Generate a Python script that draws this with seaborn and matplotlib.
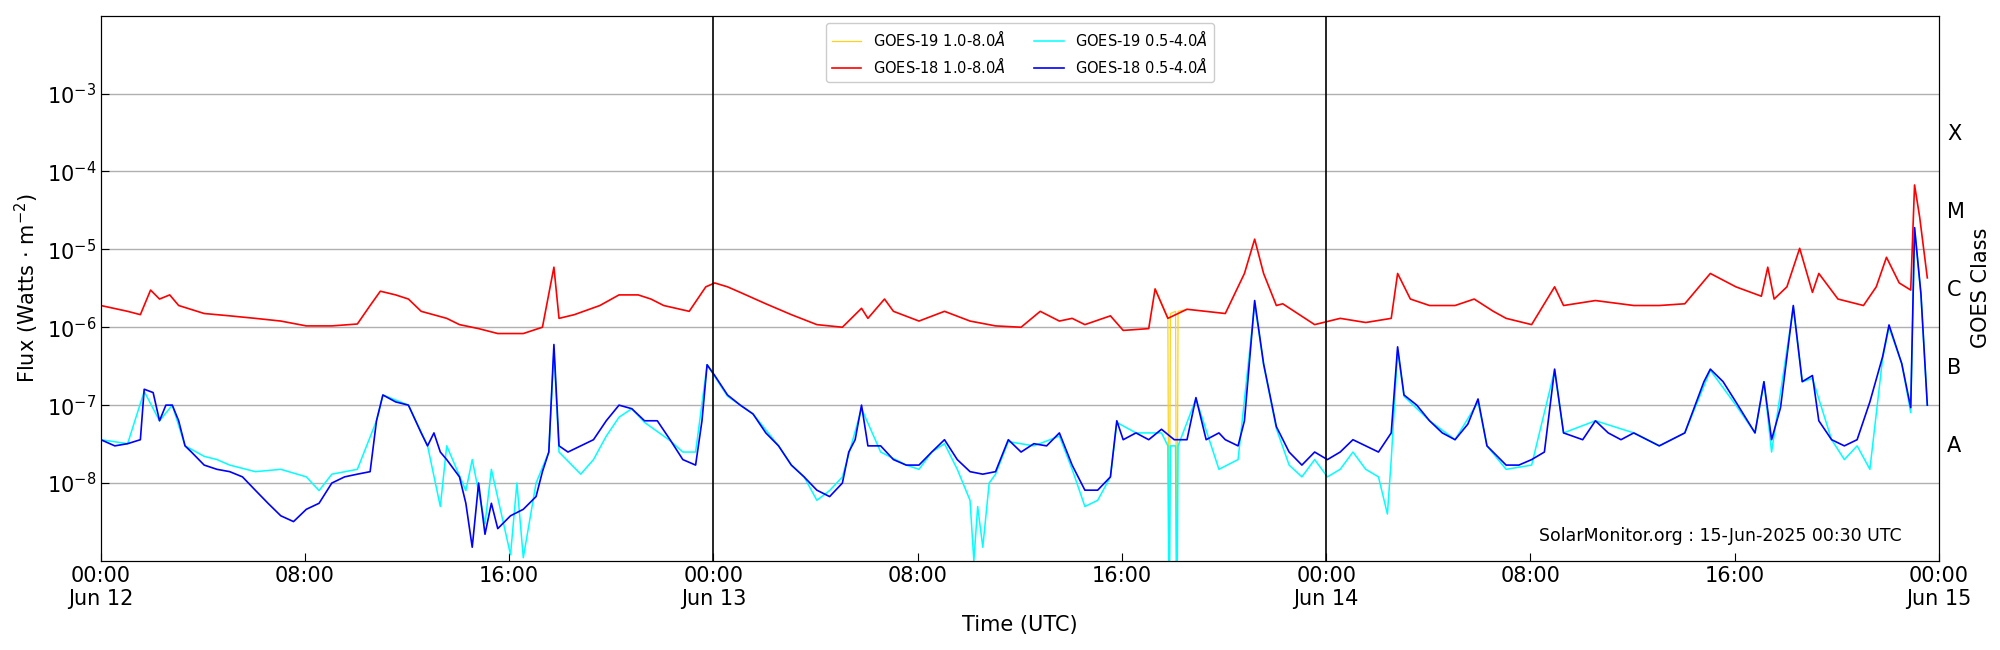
import matplotlib
matplotlib.use("Agg")
import matplotlib.pyplot as plt
import seaborn as sns
import pandas as pd

# (hours since 2025-06-12 00:00 UTC, flux W/m^2)
goes18_long = [
    (0, 1.9e-6), (1.05, 1.6e-6), (1.55, 1.45e-6), (1.95, 3.0e-6), (2.3, 2.3e-6), (2.7, 2.6e-6),
    (3.05, 1.9e-6), (4.05, 1.5e-6), (5.05, 1.4e-6), (6.05, 1.3e-6), (7.05, 1.2e-6), (8.05, 1.04e-6),
    (9.05, 1.04e-6), (10.05, 1.1e-6), (10.55, 1.9e-6), (10.95, 2.9e-6), (11.55, 2.6e-6), (12.05, 2.3e-6),
    (12.55, 1.6e-6), (13.55, 1.3e-6), (14.05, 1.08e-6), (14.8, 0.96e-6), (15.55, 0.83e-6), (16.55, 0.83e-6),
    (17.3, 1.0e-6), (17.75, 5.9e-6), (17.95, 1.3e-6), (18.55, 1.45e-6), (19.55, 1.9e-6), (20.3, 2.6e-6),
    (21.05, 2.6e-6), (21.55, 2.3e-6), (22.05, 1.9e-6), (23.05, 1.6e-6), (23.7, 3.3e-6), (24.05, 3.7e-6),
    (24.55, 3.3e-6), (25.05, 2.8e-6), (26.05, 2.0e-6), (27.05, 1.45e-6), (28.05, 1.08e-6), (29.05, 1.0e-6),
    (29.8, 1.75e-6), (30.05, 1.3e-6), (30.7, 2.3e-6), (31.05, 1.6e-6), (32.05, 1.2e-6), (33.05, 1.6e-6),
    (34.05, 1.2e-6), (35.05, 1.04e-6), (36.05, 1.0e-6), (36.8, 1.6e-6), (37.55, 1.2e-6), (38.05, 1.3e-6),
    (38.55, 1.08e-6), (39.55, 1.4e-6), (40.05, 0.91e-6), (41.05, 0.96e-6), (41.3, 3.1e-6), (41.8, 1.3e-6),
    (42.55, 1.7e-6), (44.05, 1.5e-6), (44.8, 4.9e-6), (45.2, 1.35e-5), (45.55, 4.9e-6), (46.05, 1.9e-6),
    (46.3, 2.0e-6), (47.55, 1.08e-6), (48.55, 1.3e-6), (49.55, 1.15e-6), (50.55, 1.3e-6), (50.8, 4.9e-6),
    (51.3, 2.3e-6), (52.05, 1.9e-6), (53.05, 1.9e-6), (53.8, 2.3e-6), (54.55, 1.6e-6), (55.05, 1.3e-6),
    (56.05, 1.08e-6), (56.95, 3.3e-6), (57.3, 1.9e-6), (58.55, 2.2e-6), (60.05, 1.9e-6), (61.05, 1.9e-6),
    (62.05, 2.0e-6), (63.05, 4.9e-6), (64.05, 3.3e-6), (65.05, 2.5e-6), (65.3, 5.9e-6), (65.55, 2.3e-6),
    (66.05, 3.3e-6), (66.55, 1.03e-5), (67.05, 2.8e-6), (67.3, 4.9e-6), (68.05, 2.3e-6), (69.05, 1.9e-6),
    (69.55, 3.3e-6), (69.95, 7.9e-6), (70.45, 3.7e-6), (70.9, 3.0e-6), (71.05, 6.7e-5), (71.25, 2.6e-5),
    (71.55, 4.3e-6),
]

goes19_long = [
    (41.3, 3.1e-6), (41.8, 1.3e-6), (41.85, 1e-10), (41.9, 1.5e-6), (42.1, 1.6e-6), (42.15, 1e-10),
    (42.2, 1.6e-6), (42.55, 1.7e-6),
]

goes18_short = [
    (0, 3.6e-8), (0.55, 3.0e-8), (1.05, 3.2e-8), (1.55, 3.6e-8), (1.7, 1.6e-7), (2.05, 1.45e-7),
    (2.3, 6.3e-8), (2.55, 1e-7), (2.8, 1e-7), (3.05, 6.3e-8), (3.3, 3.0e-8), (3.55, 2.5e-8),
    (4.05, 1.7e-8), (4.55, 1.5e-8), (5.05, 1.4e-8), (5.55, 1.2e-8), (6.05, 8.1e-9), (6.55, 5.5e-9),
    (7.05, 3.8e-9), (7.55, 3.2e-9), (8.05, 4.6e-9), (8.55, 5.5e-9), (9.05, 1e-8), (9.55, 1.2e-8),
    (10.05, 1.3e-8), (10.55, 1.4e-8), (10.8, 6.3e-8), (11.05, 1.35e-7), (11.55, 1.1e-7), (12.05, 1e-7),
    (12.55, 4.4e-8), (12.8, 3e-8), (13.05, 4.4e-8), (13.3, 2.5e-8), (13.55, 2e-8), (14.05, 1.2e-8),
    (14.3, 5.5e-9), (14.55, 1.5e-9), (14.8, 1e-8), (15.05, 2.2e-9), (15.3, 5.5e-9), (15.55, 2.6e-9),
    (16.05, 3.8e-9), (16.55, 4.6e-9), (17.05, 6.7e-9), (17.3, 1.4e-8), (17.55, 2.5e-8), (17.75, 6e-7),
    (17.95, 3e-8), (18.3, 2.5e-8), (18.8, 3e-8), (19.3, 3.6e-8), (19.8, 6.3e-8), (20.3, 1e-7),
    (20.8, 9e-8), (21.3, 6.3e-8), (21.8, 6.3e-8), (22.3, 3.6e-8), (22.8, 2e-8), (23.3, 1.7e-8),
    (23.55, 6.3e-8), (23.75, 3.3e-7), (24.05, 2.4e-7), (24.55, 1.35e-7), (25.05, 1e-7), (25.55, 7.7e-8),
    (26.05, 4.4e-8), (26.55, 3e-8), (27.05, 1.7e-8), (27.55, 1.2e-8), (28.05, 8.1e-9), (28.55, 6.7e-9),
    (29.05, 1e-8), (29.3, 2.5e-8), (29.55, 3.6e-8), (29.8, 1e-7), (30.05, 3e-8), (30.55, 3e-8),
    (31.05, 2e-8), (31.55, 1.7e-8), (32.05, 1.7e-8), (32.55, 2.5e-8), (33.05, 3.6e-8), (33.55, 2e-8),
    (34.05, 1.4e-8), (34.55, 1.3e-8), (35.05, 1.4e-8), (35.55, 3.6e-8), (36.05, 2.5e-8), (36.55, 3.2e-8),
    (37.05, 3e-8), (37.55, 4.4e-8), (38.05, 1.7e-8), (38.55, 8.1e-9), (39.05, 8.1e-9), (39.55, 1.2e-8),
    (39.8, 6.3e-8), (40.05, 3.6e-8), (40.55, 4.4e-8), (41.05, 3.6e-8), (41.55, 4.9e-8), (42.05, 3.6e-8),
    (42.55, 3.6e-8), (42.9, 1.25e-7), (43.3, 3.6e-8), (43.8, 4.4e-8), (44.05, 3.6e-8), (44.55, 3e-8),
    (44.8, 6.3e-8), (45.2, 2.2e-6), (45.55, 3.4e-7), (46.05, 5.3e-8), (46.55, 2.5e-8), (47.05, 1.7e-8),
    (47.55, 2.5e-8), (48.05, 2e-8), (48.55, 2.5e-8), (49.05, 3.6e-8), (49.55, 3e-8), (50.05, 2.5e-8),
    (50.55, 4.4e-8), (50.8, 5.6e-7), (51.05, 1.35e-7), (51.55, 1e-7), (52.05, 6.3e-8), (52.55, 4.4e-8),
    (53.05, 3.6e-8), (53.55, 5.7e-8), (53.95, 1.2e-7), (54.3, 3e-8), (55.05, 1.7e-8), (55.55, 1.7e-8),
    (56.05, 2e-8), (56.55, 2.5e-8), (56.95, 2.9e-7), (57.3, 4.4e-8), (58.05, 3.6e-8), (58.55, 6.3e-8),
    (59.05, 4.4e-8), (59.55, 3.6e-8), (60.05, 4.4e-8), (61.05, 3e-8), (62.05, 4.4e-8), (62.8, 2e-7),
    (63.05, 2.9e-7), (63.55, 2e-7), (64.05, 1.1e-7), (64.8, 4.4e-8), (65.15, 2e-7), (65.45, 3.6e-8),
    (65.8, 9.3e-8), (66.3, 1.9e-6), (66.65, 2e-7), (67.05, 2.4e-7), (67.3, 6.3e-8), (67.8, 3.6e-8),
    (68.3, 3e-8), (68.8, 3.6e-8), (69.3, 1.1e-7), (69.8, 4.2e-7), (70.05, 1.07e-6), (70.55, 3.4e-7),
    (70.9, 9.3e-8), (71.05, 1.9e-5), (71.3, 2.7e-6), (71.55, 1e-7),
]

goes19_short = [
    (0, 3.6e-8), (1.05, 3.2e-8), (1.7, 1.5e-7), (2.3, 6.3e-8), (2.8, 1e-7), (3.3, 3e-8), (4.05, 2.2e-8),
    (4.55, 2e-8), (5.05, 1.7e-8), (6.05, 1.4e-8), (7.05, 1.5e-8), (8.05, 1.2e-8), (8.55, 8e-9),
    (9.05, 1.3e-8), (10.05, 1.5e-8), (10.8, 6.3e-8), (11.05, 1.35e-7), (12.05, 1e-7), (12.8, 3e-8),
    (13.3, 5e-9), (13.55, 3e-8), (14.3, 8e-9), (14.55, 2e-8), (15.05, 3e-9), (15.3, 1.5e-8),
    (16.05, 1.2e-9), (16.3, 1e-8), (16.55, 1.1e-9), (17.05, 1e-8), (17.55, 2.5e-8), (17.75, 5e-7),
    (17.95, 2.5e-8), (18.8, 1.3e-8), (19.3, 2e-8), (19.8, 4e-8), (20.3, 7e-8), (20.8, 9e-8), (21.3, 6e-8),
    (22.3, 3.5e-8), (22.8, 2.5e-8), (23.3, 2.5e-8), (23.75, 3.3e-7), (24.55, 1.3e-7), (25.55, 7.7e-8),
    (26.55, 3e-8), (27.05, 1.7e-8), (27.55, 1.2e-8), (28.05, 6e-9), (28.55, 8e-9), (29.05, 1.2e-8),
    (29.8, 9e-8), (30.55, 2.5e-8), (31.55, 1.7e-8), (32.05, 1.5e-8), (32.55, 2.5e-8), (33.05, 3.2e-8),
    (33.55, 1.5e-8), (34.05, 6e-9), (34.2, 1e-9), (34.35, 5e-9), (34.55, 1.5e-9), (34.8, 1e-8),
    (35.05, 1.3e-8), (35.55, 3.4e-8), (36.55, 3e-8), (37.55, 4e-8), (38.05, 1.5e-8), (38.55, 5e-9),
    (39.05, 6e-9), (39.55, 1.2e-8), (39.8, 6e-8), (40.55, 4.4e-8), (41.55, 4.4e-8), (41.8, 3e-8),
    (41.85, 1e-10), (41.9, 3e-8), (42.1, 3e-8), (42.15, 1e-10), (42.2, 3e-8), (42.9, 1.2e-7),
    (43.8, 1.5e-8), (44.55, 2e-8), (45.2, 2e-6), (45.55, 3.3e-7), (46.05, 5e-8), (46.55, 1.7e-8),
    (47.05, 1.2e-8), (47.55, 2e-8), (48.05, 1.2e-8), (48.55, 1.5e-8), (49.05, 2.5e-8), (49.55, 1.5e-8),
    (50.05, 1.2e-8), (50.4, 4e-9), (50.55, 2e-8), (50.8, 5e-7), (51.05, 1.3e-7), (52.05, 6.3e-8),
    (53.05, 3.6e-8), (53.95, 1.1e-7), (54.3, 3e-8), (55.05, 1.5e-8), (56.05, 1.7e-8), (56.95, 2.8e-7),
    (57.3, 4.4e-8), (58.55, 6.3e-8), (60.05, 4.4e-8), (61.05, 3e-8), (62.05, 4.4e-8), (63.05, 2.8e-7),
    (64.05, 1e-7), (64.8, 4.4e-8), (65.15, 2e-7), (65.45, 2.5e-8), (66.3, 1.8e-6), (66.65, 2e-7),
    (67.05, 2.2e-7), (67.8, 3.6e-8), (68.3, 2e-8), (68.8, 3e-8), (69.3, 1.5e-8), (69.8, 4e-7),
    (70.05, 1e-6), (70.55, 3.4e-7), (70.9, 8e-8), (71.05, 1.9e-5), (71.3, 2.6e-6), (71.55, 1e-7),
]

x_tick_hours = [0, 8, 16, 24, 32, 40, 48, 56, 64, 72]
x_tick_labels = ["00:00\nJun 12", "08:00", "16:00", "00:00\nJun 13", "08:00", "16:00",
                 "00:00\nJun 14", "08:00", "16:00", "00:00\nJun 15"]
y_ticks = [1e-8, 1e-7, 1e-6, 1e-5, 1e-4, 1e-3]
y_tick_labels = [r"$10^{-8}$", r"$10^{-7}$", r"$10^{-6}$", r"$10^{-5}$", r"$10^{-4}$", r"$10^{-3}$"]
class_levels = [10**-7.5, 10**-6.5, 10**-5.5, 10**-4.5, 10**-3.5]
class_labels = ["A", "B", "C", "M", "X"]
day_lines = [24, 48]

series = [
    ("GOES-19 1.0-8.0$\\AA$", goes19_long, "#FFD21F", 0.9),
    ("GOES-18 1.0-8.0$\\AA$", goes18_long, "red", 1.2),
    ("GOES-19 0.5-4.0$\\AA$", goes19_short, "cyan", 1.1),
    ("GOES-18 0.5-4.0$\\AA$", goes18_short, "blue", 1.2),
]

fig = plt.figure(figsize=(20, 6.5), dpi=100)
ax = fig.add_axes([0.0504, 0.137, 0.919, 0.839])
for label, data, color, lw in series:
    df = pd.DataFrame(data, columns=["hour", "flux"])
    sns.lineplot(data=df, x="hour", y="flux", ax=ax, color=color, lw=lw,
                 estimator=None, sort=False, label=label)

ax.set_yscale("log")
ax.set_xlim(0, 72)
ax.set_ylim(1e-9, 1e-2)
ax.set_xticks(x_tick_hours)
ax.set_xticklabels(x_tick_labels, fontsize=15)
ax.set_yticks(y_ticks)
ax.set_yticklabels(y_tick_labels, fontsize=15)
ax.minorticks_off()
ax.tick_params(direction="in", length=6)
ax.grid(axis="y", color="#b0b0b0", lw=1)
for d in day_lines:
    ax.axvline(d, color="black", lw=1.2)
ax.set_xlabel("Time (UTC)", fontsize=15)
ax.set_ylabel(r"Flux (Watts $\cdot$ m$^{-2}$)", fontsize=15)

ax2 = ax.twinx()
ax2.set_yscale("log")
ax2.set_ylim(1e-9, 1e-2)
ax2.set_yticks(class_levels)
ax2.set_yticklabels(class_labels, fontsize=15)
ax2.minorticks_off()
ax2.tick_params(length=0, pad=6)
ax2.set_ylabel("GOES Class", fontsize=15)

ax.legend(loc="upper center", ncol=2, fontsize=10.5, frameon=True, edgecolor="#cccccc",
          fancybox=True, framealpha=1)
ax.text(0.98, 0.03, "SolarMonitor.org : 15-Jun-2025 00:30 UTC", transform=ax.transAxes,
        ha="right", va="bottom", fontsize=12.5)

fig.savefig("out.png", dpi=100)
